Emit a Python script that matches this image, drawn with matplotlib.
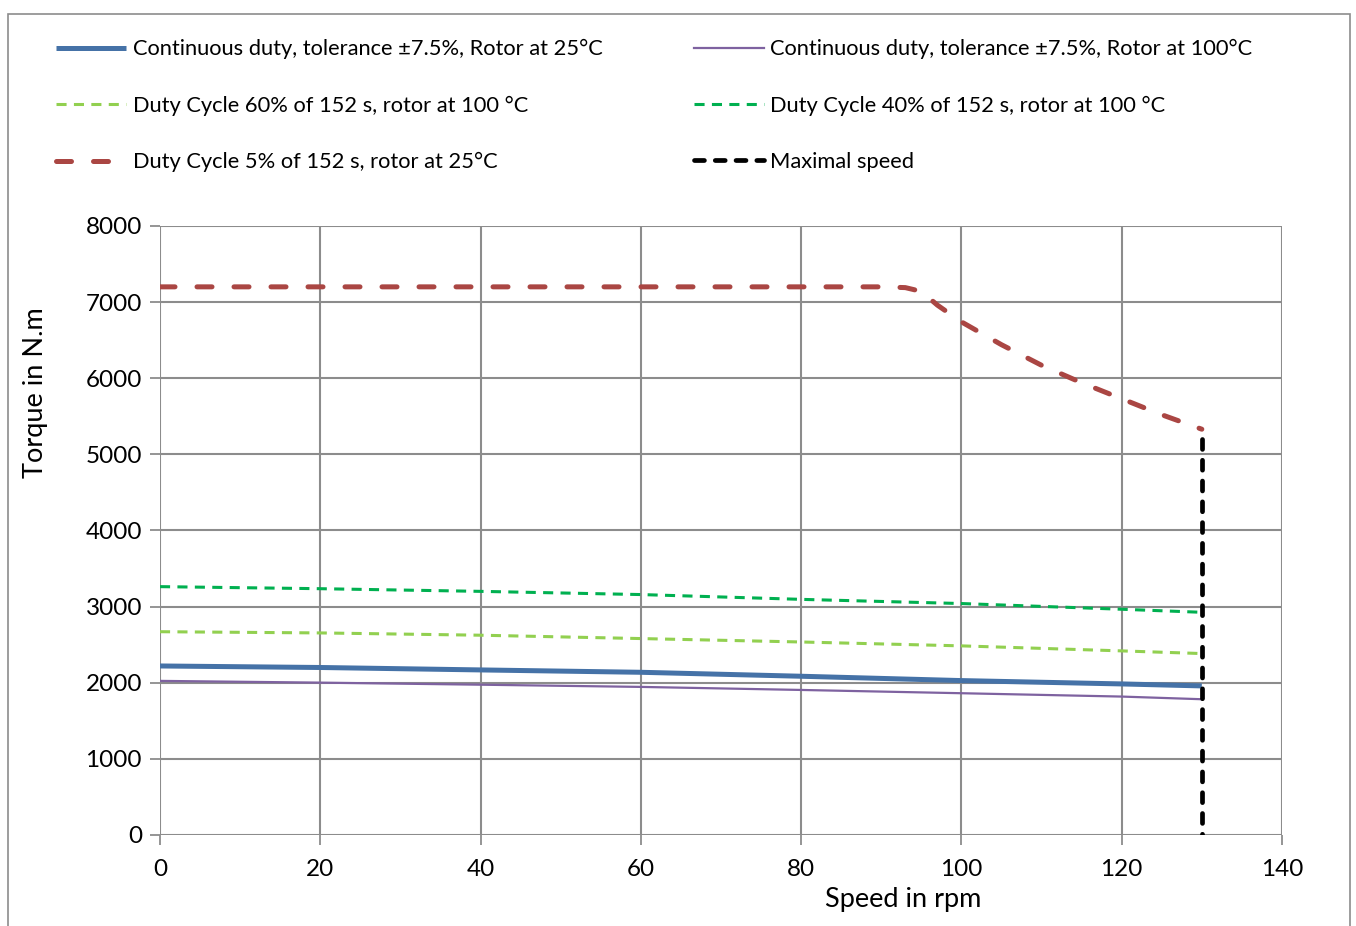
import matplotlib
matplotlib.use("Agg")
from matplotlib import pyplot as plt
from matplotlib.patches import Rectangle

plt.rcParams["font.family"] = ["Lato", "DejaVu Sans"]

# speed (rpm) and torque (N.m)
speed = [0, 20, 40, 60, 80, 100, 120, 130]
cont_25 = [2220, 2200, 2168, 2137, 2085, 2028, 1984, 1958]
cont_100 = [2024, 2001, 1974, 1945, 1905, 1862, 1818, 1783]
dc60_100 = [2670, 2654, 2624, 2580, 2535, 2484, 2418, 2383]
dc40_100 = [3262, 3235, 3200, 3158, 3095, 3040, 2965, 2925]

speed_dc5 = [0, 90, 93, 95, 97, 100, 105, 110, 115, 120, 125, 130]
dc5_25 = [7200, 7200, 7190, 7140, 6960, 6740, 6440, 6170, 5940, 5730, 5520, 5330]

max_speed = [130, 130]
max_torque = [5200, 0]

labels = [
    "Continuous duty, tolerance \u00b17.5%, Rotor at 25\u00b0C",
    "Continuous duty, tolerance \u00b17.5%, Rotor at 100\u00b0C",
    "Duty Cycle 60% of 152 s, rotor at 100 \u00b0C",
    "Duty Cycle 40% of 152 s, rotor at 100 \u00b0C",
    "Duty Cycle 5% of 152 s, rotor at 25\u00b0C",
    "Maximal speed",
]

fig = plt.figure(figsize=(13.56, 9.26), dpi=100)
ax = fig.add_axes([0.118, 0.0983, 0.8274, 0.6577])

l1, = ax.plot(speed, cont_25, color="#4572A7", lw=3.6, solid_capstyle="butt")
l2, = ax.plot(speed, cont_100, color="#7E62A0", lw=1.6)
l3, = ax.plot(speed, dc60_100, color="#92D050", lw=2.2, dashes=(3.3, 2.4))
l4, = ax.plot(speed, dc40_100, color="#00B050", lw=2.2, dashes=(3.3, 2.4))
l5, = ax.plot(speed_dc5, dc5_25, color="#AA4643", lw=3.6, dashes=(3.0, 4.4),
              dash_capstyle="round")
l6, = ax.plot(max_speed, max_torque, color="black", lw=3.4, dashes=(2.1, 2.3),
              dash_capstyle="round")

ax.set_xlim(0, 140)
ax.set_ylim(0, 8000)
ax.set_xticks(range(0, 141, 20))
ax.set_yticks(range(0, 8001, 1000))
ax.grid(True, color="#8c8c8c", lw=1.5)
ax.set_axisbelow(True)
for s in ax.spines.values():
    s.set_visible(False)
ax.tick_params(axis="both", length=7, width=1.3, color="#8c8c8c",
               labelsize=17.5, pad=6)
ax.tick_params(axis="x", pad=10)
ax.set_xlabel("Speed in rpm", fontsize=19.5, labelpad=2)
ax.xaxis.set_label_coords(0.662, -0.085)
ax.set_ylabel("Torque in N.m", fontsize=19.5)
ax.yaxis.set_label_coords(-0.1, 0.726)

handles = [l1, l3, l5, l2, l4, l6]
labs = [labels[0], labels[2], labels[4], labels[1], labels[3], labels[5]]
fig.legend(handles, labs, loc="upper left", bbox_to_anchor=(0.027, 0.979),
           ncol=2, frameon=False, fontsize=15.75, handlelength=3.2,
           handletextpad=0.31, labelspacing=1.66, columnspacing=4.15)

fig.patches.append(Rectangle((8 / 1356, -0.01), 1342 / 1356, 1.01 - 14 / 926,
                             transform=fig.transFigure, fill=False,
                             edgecolor="#8c8c8c", lw=1.2))

fig.savefig("out.png", dpi=100)
